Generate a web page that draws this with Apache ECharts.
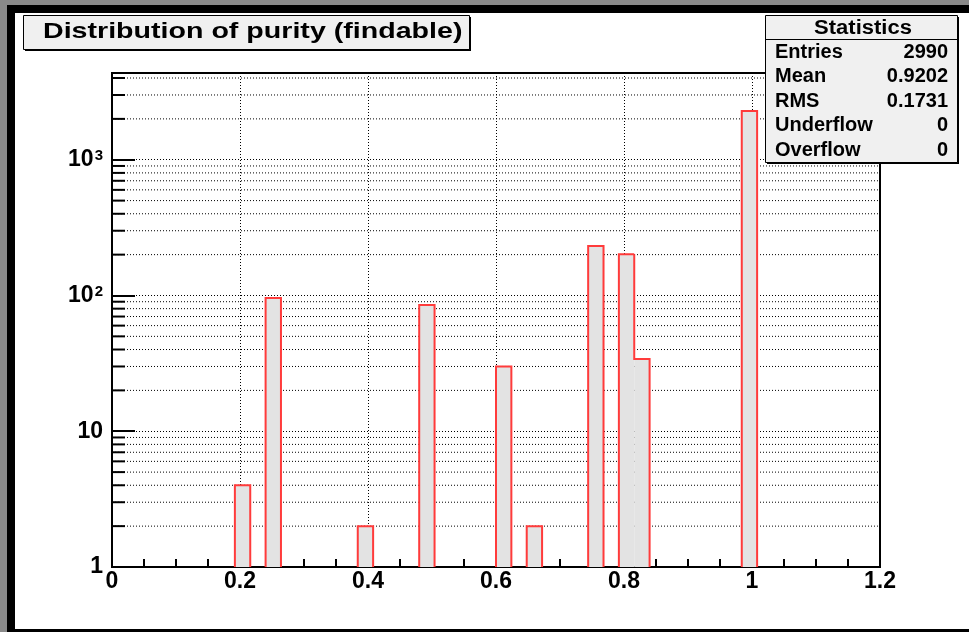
<!DOCTYPE html>
<html>
<head>
<meta charset="utf-8">
<script src="https://cdn.jsdelivr.net/npm/echarts@6/dist/echarts.min.js"></script>
<style>
  html, body { margin: 0; padding: 0; background: #fff; }
  #chart { width: 969px; height: 632px; }
</style>
</head>
<body>
<div id="chart"></div>
<script>
// histogram bins (lower edge) and counts, bin width 0.024 over [0, 1.2]
const binLow = [0.192, 0.24, 0.384, 0.48, 0.6, 0.648, 0.744, 0.792, 0.816, 0.984];
const counts = [4, 96, 2, 85, 30, 2, 232, 201, 34, 2290];
const binWidth = 0.024;

// minor log gridlines / ticks
const minorVals = [2, 3, 4, 5, 6, 7, 8, 9, 20, 30, 40, 50, 60, 70, 80, 90,
  200, 300, 400, 500, 600, 700, 800, 900, 2000, 3000, 4000];

const statLabels = ["Entries", "Mean", "RMS", "Underflow", "Overflow"];
const statValues = ["2990", "0.9202", "0.1731", "0", "0"];

const FONT = "'Liberation Sans', Arial, Helvetica, sans-serif";
const xMin = 0, xMax = 1.2, yMin = 1, yMax = 4355;

const chart = echarts.init(document.getElementById("chart"));

const statsText = [];
statLabels.forEach((l, i) => {
  const y = 52 + i * 24.6;
  statsText.push({
    type: "text", x: 775, y: y, z: 102,
    style: { text: l, font: "bold 20px " + FONT, fill: "#000", verticalAlign: "middle" },
  });
  statsText.push({
    type: "text", x: 948, y: y, z: 102,
    style: { text: statValues[i], font: "bold 20px " + FONT, fill: "#000", align: "right", verticalAlign: "middle" },
  });
});

const option = {
  animation: false,
  backgroundColor: "#fff",
  grid: {
    left: 112, top: 73, right: 89, bottom: 65,
    show: true, borderColor: "#000", borderWidth: 2, backgroundColor: "transparent",
  },
  xAxis: {
    type: "value",
    min: xMin, max: xMax, interval: 0.2,
    axisLine: { lineStyle: { color: "#000", width: 2 } },
    axisTick: { inside: true, length: 16, lineStyle: { color: "#000", width: 2 } },
    minorTick: { show: true, splitNumber: 4, length: 8, lineStyle: { color: "#000", width: 2 } },
    axisLabel: { color: "#000", fontFamily: FONT, fontWeight: "bold", fontSize: 23, margin: 3 },
    splitLine: { show: true, lineStyle: { color: "#000", width: 1, type: [1, 2] } },
  },
  yAxis: {
    type: "log", logBase: 10,
    min: yMin, max: yMax, interval: 1,
    axisLine: { lineStyle: { color: "#000", width: 2 } },
    axisTick: { inside: true, length: 23, lineStyle: { color: "#000", width: 2 } },
    axisLabel: {
      color: "#000", fontFamily: FONT, fontWeight: "bold", fontSize: 23, margin: 9,
      showMaxLabel: false,
      formatter: (v) => {
        const e = Math.round(Math.log10(v));
        if (e === 0) return "1";
        if (e === 1) return "10";
        return "{b|10}{s|" + e + "}";
      },
      rich: {
        b: { fontFamily: FONT, fontWeight: "bold", fontSize: 23, color: "#000" },
        s: { fontFamily: FONT, fontWeight: "bold", fontSize: 15, color: "#000", verticalAlign: "top", padding: [0, 0, 8, 1] },
      },
    },
    splitLine: { show: true, lineStyle: { color: "#000", width: 1, type: [1, 2] } },
  },
  series: [
    {
      type: "custom",
      z: 1,
      silent: true,
      data: minorVals.map((v) => [v]),
      encode: { y: 0 },
      renderItem: (params, api) => {
        const v = api.value(0);
        const p0 = api.coord([xMin, v]);
        const p1 = api.coord([xMax, v]);
        return {
          type: "group",
          children: [
            { type: "line", shape: { x1: p0[0], y1: p0[1], x2: p1[0], y2: p1[1] },
              style: { stroke: "#000", lineWidth: 1, lineDash: [1, 2] } },
            { type: "line", shape: { x1: p0[0], y1: p0[1], x2: p0[0] + 13, y2: p0[1] },
              style: { stroke: "#000", lineWidth: 2 } },
          ],
        };
      },
    },
    {
      type: "custom",
      z: 3,
      silent: true,
      data: binLow.map((b, i) => [b, b + binWidth, counts[i]]),
      encode: { x: [0, 1], y: 2 },
      renderItem: (params, api) => {
        const i = params.dataIndex;
        const x0 = api.value(0), x1 = api.value(1), c = api.value(2);
        const tl = api.coord([x0, c]);
        const br = api.coord([x1, yMin]);
        const prevAdj = i > 0 && Math.abs(binLow[i - 1] + binWidth - x0) < 1e-6;
        const nextAdj = i < binLow.length - 1 && Math.abs(x1 - binLow[i + 1]) < 1e-6;
        const leftStart = prevAdj ? api.coord([x0, counts[i - 1]])[1] : br[1];
        const pts = [[tl[0], leftStart], [tl[0], tl[1]], [br[0], tl[1]]];
        if (!nextAdj) pts.push([br[0], br[1]]);
        return {
          type: "group",
          children: [
            { type: "rect", shape: { x: tl[0], y: tl[1], width: br[0] - tl[0], height: br[1] - tl[1] },
              style: { fill: "#e3e3e3" } },
            { type: "polyline", shape: { points: pts },
              style: { stroke: "#ff3b3b", lineWidth: 2, fill: null } },
          ],
        };
      },
    },
  ],
  graphic: [
    // outer frame
    { type: "rect", shape: { x: 0, y: 0, width: 969, height: 5 }, style: { fill: "#8a8a8a" }, z: 100 },
    { type: "rect", shape: { x: 0, y: 0, width: 7, height: 632 }, style: { fill: "#8a8a8a" }, z: 100 },
    { type: "rect", shape: { x: 7, y: 5, width: 962, height: 8 }, style: { fill: "#000" }, z: 100 },
    { type: "rect", shape: { x: 7, y: 5, width: 8, height: 627 }, style: { fill: "#000" }, z: 100 },
    { type: "rect", shape: { x: 7, y: 629, width: 962, height: 3 }, style: { fill: "#000" }, z: 100 },
    // title box
    { type: "rect", shape: { x: 25, y: 17, width: 446, height: 34 }, style: { fill: "#000" }, z: 100 },
    { type: "rect", shape: { x: 23.5, y: 15.5, width: 446, height: 34 },
      style: { fill: "#f0f0f0", stroke: "#000", lineWidth: 1 }, z: 101 },
    { type: "text", x: 43, y: 32, scaleX: 1.3, z: 102,
      style: { text: "Distribution of purity (findable)", font: "bold 22px " + FONT, fill: "#000", verticalAlign: "middle" } },
    // stats box
    { type: "rect", shape: { x: 767, y: 17, width: 192, height: 147 }, style: { fill: "#000" }, z: 100 },
    { type: "rect", shape: { x: 765.5, y: 15.5, width: 192, height: 147 },
      style: { fill: "#f0f0f0", stroke: "#000", lineWidth: 1 }, z: 101 },
    { type: "line", shape: { x1: 765.5, y1: 39.5, x2: 957.5, y2: 39.5 },
      style: { stroke: "#000", lineWidth: 1 }, z: 102 },
    { type: "text", x: 863, y: 28, scaleX: 1.1, z: 102,
      style: { text: "Statistics", font: "bold 20px " + FONT, fill: "#000", align: "center", verticalAlign: "middle" } },
    ...statsText,
  ],
};

chart.setOption(option);
</script>
</body>
</html>
